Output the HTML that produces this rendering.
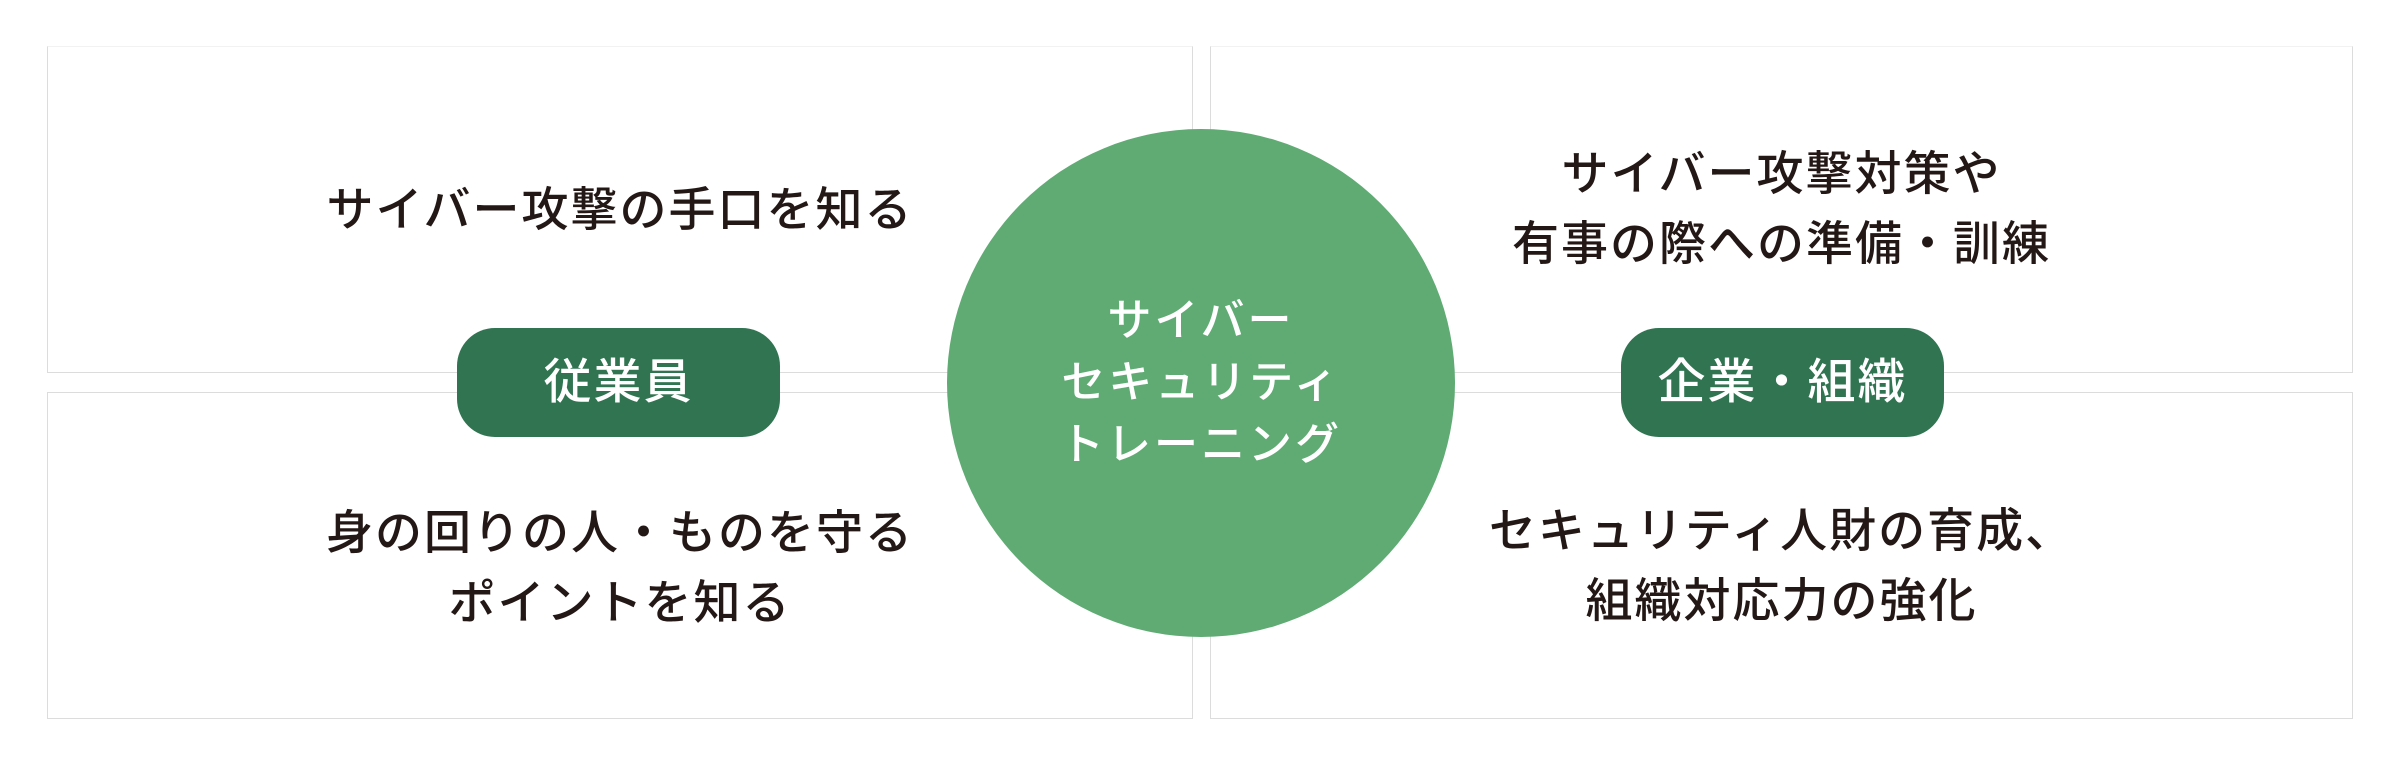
<!DOCTYPE html>
<html><head><meta charset="utf-8"><style>
html,body{margin:0;padding:0;background:#fff}
body{width:2400px;height:766px;position:relative;overflow:hidden;font-family:"Liberation Sans","Noto Sans CJK JP",sans-serif;color:#231815}
.box{position:absolute;border:1.5px solid #dcdcdc;background:#fff;box-sizing:border-box}
.t{position:absolute;text-align:center;font-size:47px;line-height:70px;letter-spacing:2px;font-weight:500}
.pill{position:absolute;width:323px;height:109px;border-radius:38px;background:#307451;color:#fff;font-size:48px;line-height:109px;text-align:center;letter-spacing:2px;font-weight:500}
.circle{position:absolute;left:947px;top:129px;width:508px;height:508px;border-radius:50%;background:#5fab73;color:#fff;font-size:44px;line-height:62px;text-align:center;display:flex;align-items:center;justify-content:center;letter-spacing:3px;font-weight:500}
</style></head><body>
<div class="box" style="left:47px;top:46px;width:1146px;height:327px;border-top-color:#f2f2f2"></div>
<div class="box" style="left:47px;top:392px;width:1146px;height:327px"></div>
<div class="box" style="left:1210px;top:46px;width:1143px;height:327px;border-top-color:#f2f2f2"></div>
<div class="box" style="left:1210px;top:392px;width:1143px;height:327px"></div>
<div class="t" style="left:47px;width:1146px;top:175px">サイバー攻撃の手口を知る</div>
<div class="t" style="left:47px;width:1146px;top:498px">身の回りの人・ものを守る<br>ポイントを知る</div>
<div class="t" style="left:1210px;width:1143px;top:139px">サイバー攻撃対策や<br>有事の際への準備・訓練</div>
<div class="t" style="left:1210px;width:1143px;top:496px">セキュリティ人財の育成、<br>組織対応力の強化</div>
<div class="circle"><div>サイバー<br>セキュリティ<br>トレーニング</div></div>
<div class="pill" style="left:457px;top:328px">従業員</div>
<div class="pill" style="left:1621px;top:328px">企業・組織</div>
</body></html>
